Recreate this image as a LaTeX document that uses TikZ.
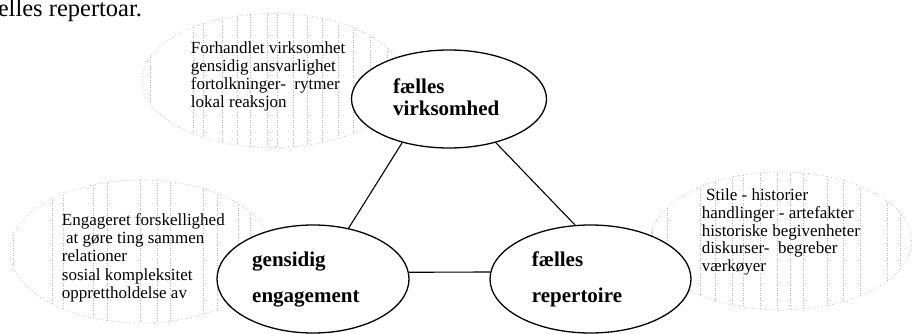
\documentclass[tikz,border=0pt]{standalone}
\usepackage{fontspec}
\setmainfont{Liberation Serif}
\usetikzlibrary{shapes.geometric}
\begin{document}
\begin{tikzpicture}[x=1pt,y=-1pt,
  mainell/.style={draw, line width=1.3pt, fill=white, ellipse, inner sep=0pt},
  cloudell/.style={draw=gray!70, dotted, line width=0.6pt, ellipse, inner sep=0pt},
  stripe/.style={draw=gray!55, dotted, line width=0.5pt},
  bodytext/.style={anchor=base west, align=left, inner sep=0pt, font=\fontsize{17}{18}\selectfont},
  boldtext/.style={anchor=base west, inner sep=0pt, font=\fontsize{21}{22}\selectfont\bfseries},
  link/.style={line width=1.1pt}]
\useasboundingbox (0,0) rectangle (912,334);

% header text (cut at the left edge, as in the source)
\node[anchor=base west, inner sep=0pt, font=\fontsize{24.5}{26}\selectfont] (head) at (-16,17) {fælles repertoar.};

% dotted clouds with vertical stripes
\begin{scope}
  \clip (273,80.5) ellipse [x radius=131pt, y radius=67pt];
  \foreach \x in {150,193,203,222,237,250,267,277,293,307,322,338,353,370,387,397}
    \draw[stripe] (\x,0) -- (\x,160);
\end{scope}
\node[cloudell, minimum width=262pt, minimum height=134pt] (c1) at (273,80.5) {};

\begin{scope}
  \clip (141,251.5) ellipse [x radius=131pt, y radius=71.5pt];
  \foreach \x in {13,52,63,93,107,140,157,170,203,217,238,250,267}
    \draw[stripe] (\x,170) -- (\x,334);
\end{scope}
\node[cloudell, minimum width=262pt, minimum height=143pt] (c2) at (141,251.5) {};

\begin{scope}
  \clip (781,241) ellipse [x radius=130.5pt, y radius=69pt];
  \foreach \x in {652,667,700,715,732,743,760,777,790,803,827,843,860,887,900}
    \draw[stripe] (\x,160) -- (\x,320);
\end{scope}
\node[cloudell, minimum width=261pt, minimum height=138pt] (c3) at (781,241) {};

% cloud texts (anchored at the baseline of the last line)
\node[bodytext] (t1) at (190.7,107.3) {Forhandlet virksomhet\\gensidig ansvarlighet\\fortolkninger-\ \ rytmer\\lokal reaksjon};
\node[bodytext, font=\fontsize{17}{18.3}\selectfont] (t2) at (61.7,298.3) {Engageret forskellighed\\\ at gøre ting sammen\\relationer\\sosial kompleksitet\\opprettholdelse av};
\node[bodytext, font=\fontsize{17}{17.7}\selectfont] (t3) at (701.7,271.6) {\ Stile - historier\\handlinger - artefakter\\historiske begivenheter\\diskurser-\ \ begreber\\værkøyer};

% main ellipses
\node[mainell, minimum width=195pt, minimum height=98pt] (top) at (449,99) {};
\node[mainell, minimum width=192pt, minimum height=108pt] (bl) at (313,279) {};
\node[mainell, minimum width=201pt, minimum height=108pt] (br) at (590.5,279) {};

% connectors
\draw[link] (top.223) -- (bl.55);
\draw[link] (top.317) -- (br.106);
\draw[link] (bl.4) -- (br.176);

% main labels
\node[boldtext] (l1a) at (393,94) {fælles};
\node[boldtext] (l1b) at (393,116) {virksomhed};
\node[boldtext] (l2a) at (252,266) {gensidig};
\node[boldtext] (l2b) at (252,302) {engagement};
\node[boldtext] (l3a) at (531.7,266.7) {fælles};
\node[boldtext] (l3b) at (531.7,302.7) {repertoire};
\end{tikzpicture}
\end{document}
